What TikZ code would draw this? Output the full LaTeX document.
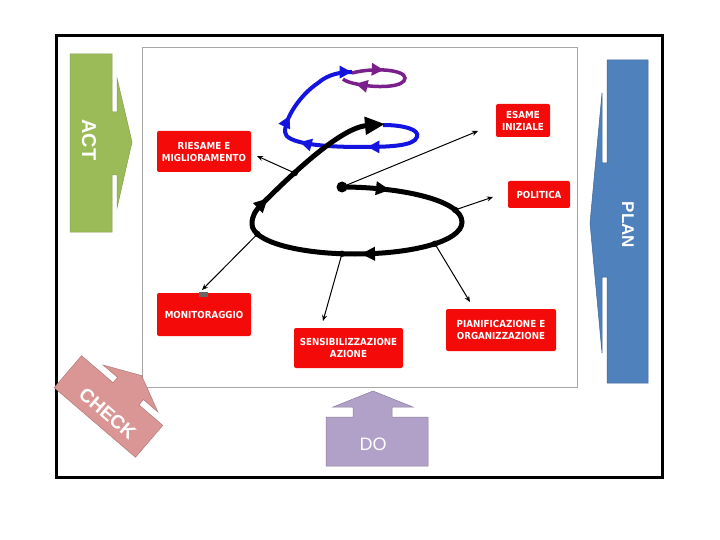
\documentclass[tikz,border=0pt]{standalone}
\usepackage{fontspec}
\setmainfont{Liberation Sans}
\newfontfamily\boxfont{DejaVu Sans Condensed}
\usepackage{tikz}
\usetikzlibrary{arrows.meta}
\usetikzlibrary{decorations.markings}

\definecolor{actgreen}{HTML}{9BBB59}
\definecolor{planblue}{HTML}{4F81BD}
\definecolor{dolilac}{HTML}{B1A0C7}
\definecolor{checkpink}{HTML}{D99694}
\definecolor{boxred}{HTML}{F50A0A}
\definecolor{loopblue}{HTML}{1414E0}
\definecolor{loopviolet}{HTML}{7A1F8C}

\tikzset{
  redbox/.style={fill=boxred, rounded corners=2pt, text=white, align=center, inner sep=0pt,
    font=\boxfont\bfseries\fontsize{9.7}{12}\selectfont},
  bigword/.style={text=white, font=\bfseries\fontsize{17}{17}\selectfont},
  link/.style={line width=1pt, -{Stealth[length=6pt,width=5pt]}},
  pdcaarrow/.style={line width=.5pt},
}

\begin{document}
\begin{tikzpicture}[x=1pt,y=-1pt]
    \useasboundingbox (0,0) rectangle (720,540);
    \fill[white] (0,0) rectangle (720,540);
    \draw[line width=3pt] (56,36) rectangle (662,477);
    \draw[gray!70,line width=1pt] (142,48) rectangle (577,387);

    \filldraw[pdcaarrow,fill=actgreen,draw=actgreen!85!black] (70,54) -- (112,54) -- (112,112) -- (117,112) -- (117,78) -- (132,142)
      -- (117,208) -- (117,175) -- (112,175) -- (112,232) -- (70,232) -- cycle;
    \node[bigword,rotate=-90,font=\bfseries\fontsize{20}{20}\selectfont] (act) at (89,140) {ACT};

    \filldraw[pdcaarrow,fill=planblue,draw=planblue!80!black] (648,60) -- (607,60) -- (607,163) -- (602,163) -- (602,93) -- (590,223)
      -- (602,353) -- (602,277) -- (607,277) -- (607,383) -- (648,383) -- cycle;
    \node[bigword,rotate=-90] (plan) at (628,225) {PLAN};

    \filldraw[pdcaarrow,fill=dolilac,draw=dolilac!80!black] (326,466) -- (326,417) -- (353,417) -- (353,407) -- (333,407) -- (373,391)
      -- (413,407) -- (392,407) -- (392,417) -- (428,417) -- (428,466) -- cycle;
    \node[text=white,font=\fontsize{18}{18}\selectfont] (do) at (373,444) {DO};

    \begin{scope}[shift={(108.5,406.5)},rotate=-40.6]
      \filldraw[pdcaarrow,fill=checkpink,draw=checkpink!80!black] (-53.5,21) -- (-53.5,-21) -- (-12,-21) -- (-12,-28) -- (-31,-28)
        -- (5,-45) -- (41,-28) -- (22,-28) -- (22,-21) -- (53.5,-21) -- (53.5,21) -- cycle;
      \node[bigword,rotate=-40.6,font=\bfseries\fontsize{19}{19}\selectfont] (check) at (4,6) {CHECK};
    \end{scope}

    \node[redbox,minimum width=94,minimum height=41] (riesame) at (204,151.5) {RIESAME E\\MIGLIORAMENTO};
    \node[redbox,minimum width=54,minimum height=33] (esame) at (523,120.5) {ESAME\\INIZIALE};
    \node[redbox,minimum width=62,minimum height=27] (politica) at (539,194.5) {POLITICA};
    \node[redbox,minimum width=94,minimum height=43] (monitor) at (204,314.5) {MONITORAGGIO};
    \node[redbox,minimum width=109,minimum height=40] (sensib) at (348.5,348) {SENSIBILIZZAZIONE\\AZIONE};
    \node[redbox,minimum width=110,minimum height=42] (pianif) at (501,330) {PIANIFICAZIONE E\\ORGANIZZAZIONE};
    \fill[black!60] (199,292) rectangle (208,297);

    \draw[loopviolet,line width=3.5pt,decoration={markings,
        mark=at position 32pt with {\arrow{Triangle[length=12pt,width=12pt]}},
        mark=at position 109pt with {\arrow{Triangle[length=12pt,width=12pt]}}},postaction={decorate}]
      (352,73) .. controls (375,67) and (405,70) .. (405,78) .. controls (405,87) and (380,88) .. (362,85)
      .. controls (350,83) and (345,81) .. (343,79);

    \draw[loopblue,line width=4pt,decoration={markings,
        mark=at position 92pt with {\arrow{Triangle[length=12pt,width=12pt]}},
        mark=at position 160pt with {\arrow{Triangle[length=12pt,width=12pt]}},
        mark=at position 196pt with {\arrow{Triangle[length=12pt,width=12pt]}},
        mark=at position 276pt with {\arrow{Triangle[length=12pt,width=12pt]}}},postaction={decorate}]
      (383,125) .. controls (405,125) and (420,130) .. (417,137) .. controls (414,146) and (390,147) .. (360,147)
      .. controls (320,147) and (285,143) .. (285,132) .. controls (285,118) and (300,95) .. (318,83)
      .. controls (325,77) and (335,72) .. (352,72);

    \draw[line width=5pt,-{Triangle[length=20pt,width=17pt]},decoration={markings,
        mark=at position 48pt with {\arrow{Triangle[length=14pt,width=13pt]}},
        mark=at position 243pt with {\arrow{Triangle[length=14pt,width=13pt]}},
        mark=at position 393pt with {\arrow{Triangle[length=14pt,width=13pt]}}},postaction={decorate}]
      (342,187) coordinate (oEsame)
      .. controls (400,187) and (462,200) .. (462,222) coordinate[pos=0.8] (oPol)
      .. controls (462,242) and (410,254) .. (355,254) coordinate[pos=0.45] (oPian)
      .. controls (300,254) and (252,242) .. (252,224) coordinate[pos=0.08] (oSens) coordinate[pos=0.8] (oMon)
      .. controls (252,216) and (255,211) .. (262,204)
      .. controls (290,176) and (340,128) .. (385,124) coordinate[pos=0.32] (oRies);

    \coordinate (eRies) at (257,156);
    \coordinate (eEsame) at (478,131);
    \coordinate (ePol) at (493,197);
    \coordinate (eMon) at (202,290);
    \coordinate (eSens) at (323,321);
    \coordinate (ePian) at (470,302);

    \draw[link] (oRies) -- (eRies);
    \draw[link] (oEsame) -- (eEsame);
    \draw[link] (oPol) -- (ePol);
    \draw[link] (oMon) -- (eMon);
    \draw[link] (oSens) -- (eSens);
    \draw[link] (oPian) -- (ePian);

    \fill (oEsame) circle (5.5);
    \foreach \p in {oRies,oPol,oMon,oSens,oPian}
      \fill (\p) circle (3.2);
  \end{tikzpicture}
\end{document}
